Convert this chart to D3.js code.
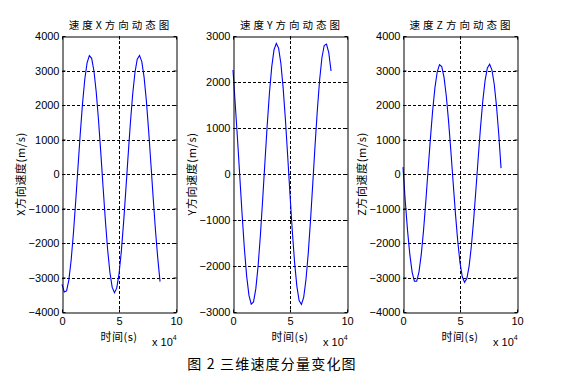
<!DOCTYPE html>
<html><head><meta charset="utf-8">
<script src="https://cdn.jsdelivr.net/npm/d3@7"></script>
<style>
html,body{margin:0;padding:0;background:#fff;}
svg{display:block;}
text{font-family:"Liberation Sans",Arial,sans-serif;fill:#000;}
.cjk{font-family:"Noto Sans CJK SC","Liberation Sans",sans-serif;}
</style></head>
<body>
<svg id="chart" width="565" height="387"></svg>
<script>
// time in units of 10^4 s
const time = [0,0.2,0.4,0.6,0.8,1.0,1.2,1.4,1.6,1.8,2.0,2.2,2.4,2.6,2.8,3.0,3.2,3.4,3.6,3.8,4.0,4.2,4.4,4.6,4.8,5.0,5.2,5.4,5.6,5.8,6.0,6.2,6.4,6.6,6.8,7.0,7.2,7.4,7.6,7.8,8.0,8.2,8.4,8.6];
const velX = [-3200,-3417,-3388,-3076,-2508,-1725,-803,186,1160,2041,2747,3224,3433,3353,2994,2385,1572,633,-360,-1327,-2179,-2849,-3281,-3440,-3310,-2904,-2257,-1416,-461,532,1486,2311,2943,3329,3438,3258,2807,2122,1255,288,-703,-1636,-2438,-3120];
const velY = [2260,1505,745,-74,-887,-1625,-2226,-2639,-2829,-2781,-2498,-2005,-1342,-566,257,1059,1772,2335,2701,2839,2737,2403,1867,1173,381,-444,-1232,-1915,-2437,-2753,-2837,-2682,-2300,-1725,-1004,-198,629,1398,2050,2528,2793,2823,2640,2240];
const velZ = [200,-798,-1641,-2339,-2844,-3107,-3107,-2844,-2339,-1641,-798,114,1012,1833,2499,2956,3168,3114,2802,2254,1518,661,-256,-1148,-1939,-2569,-2980,-3139,-3032,-2669,-2081,-1315,-436,476,1355,2121,2709,3072,3179,3020,2609,1979,1150,170];
const xTicks = [0,5,10];
const yTicksXZ = [-4000,-3000,-2000,-1000,0,1000,2000,3000,4000];
const yTicksY = [-3000,-2000,-1000,0,1000,2000,3000];
const titles = ["速度X方向动态图","速度Y方向动态图","速度Z方向动态图"];
const yLabels = ["X方向速度(m/s)","Y方向速度(m/s)","Z方向速度(m/s)"];
const xLabel = "时间(s)";
const caption = "图 2 三维速度分量变化图";

const svg = d3.select("#chart");
const panels = [
  {left:62, values:velX, ticks:yTicksXZ, dom:[-4000,4000], title:titles[0], ylab:yLabels[0], ylx:21},
  {left:233, values:velY, ticks:yTicksY, dom:[-3000,3000], title:titles[1], ylab:yLabels[1], ylx:192},
  {left:403, values:velZ, ticks:yTicksXZ, dom:[-4000,4000], title:titles[2], ylab:yLabels[2], ylx:362}
];
const plotTop = 36, plotBottom = 312, plotW = 114;
const fmt = d3.format("d");

panels.forEach(p => {
  const x = d3.scaleLinear().domain([0,10]).range([p.left, p.left + plotW]);
  const y = d3.scaleLinear().domain(p.dom).range([plotBottom, plotTop]);
  const g = svg.append("g");

  // grid
  g.selectAll(".hg").data(p.ticks.filter(t => t!==p.dom[0] && t!==p.dom[1])).enter()
    .append("line").attr("x1", p.left).attr("x2", p.left + plotW)
    .attr("y1", d => Math.round(y(d))+0.5).attr("y2", d => Math.round(y(d))+0.5)
    .attr("stroke","#000").attr("stroke-width",1).attr("stroke-dasharray","3,2");
  g.selectAll(".vg").data(xTicks.filter(t => t!==0 && t!==10)).enter()
    .append("line").attr("y1", plotTop).attr("y2", plotBottom)
    .attr("x1", d => Math.round(x(d))+0.5).attr("x2", d => Math.round(x(d))+0.5)
    .attr("stroke","#000").attr("stroke-width",1).attr("stroke-dasharray","3,2");

  // line
  const line = d3.line().x((d,i) => x(time[i])).y(d => y(d));
  g.append("path").datum(p.values).attr("d", line)
    .attr("fill","none").attr("stroke","#0000ff").attr("stroke-width",1.1);

  // axes (ticks inside)
  const ax = g.append("g").attr("transform",`translate(0,${plotBottom+0.5})`)
    .call(d3.axisBottom(x).tickValues(xTicks).tickFormat(fmt).tickSizeInner(-3).tickSizeOuter(0).tickPadding(5));
  const ay = g.append("g").attr("transform",`translate(${p.left+0.5},0)`)
    .call(d3.axisLeft(y).tickValues(p.ticks).tickFormat(fmt).tickSizeInner(-3).tickSizeOuter(0).tickPadding(3));
  const axT = g.append("g").attr("transform",`translate(0,${plotTop+0.5})`)
    .call(d3.axisTop(x).tickValues(xTicks).tickSizeInner(-3).tickSizeOuter(0).tickFormat(""));
  const ayR = g.append("g").attr("transform",`translate(${p.left+plotW+0.5},0)`)
    .call(d3.axisRight(y).tickValues(p.ticks).tickSizeInner(-3).tickSizeOuter(0).tickFormat(""));
  [ax,ay,axT,ayR].forEach(a => {
    a.selectAll("path").attr("stroke","#000").attr("stroke-width",1);
    a.selectAll("line").attr("stroke","#000");
    a.selectAll("text").attr("font-size","11px").attr("font-family","Liberation Sans, Arial, sans-serif").attr("fill","#000");
  });

  // title
  g.append("text").attr("class","cjk").attr("x", p.left + plotW/2 + 1.5).attr("y", 29)
    .attr("text-anchor","middle").attr("font-size","10.5px").attr("letter-spacing","3px").text(p.title);
  // x label
  g.append("text").attr("class","cjk").attr("x", p.left + plotW/2).attr("y", 341)
    .attr("text-anchor","middle").attr("font-size","11px").attr("letter-spacing","0.5px").text(xLabel);
  // x 10^4
  const e = g.append("text").attr("x", p.left + plotW - 24).attr("y", 346).attr("font-size","11px");
  e.append("tspan").text("x 10");
  e.append("tspan").attr("dy",-6).attr("font-size","7px").text("4");
  // y label
  g.append("text").attr("class","cjk").attr("transform",`translate(${p.ylx+4},${174}) rotate(-90)`)
    .attr("text-anchor","middle").attr("font-size","11px").attr("letter-spacing","0.6px").text(p.ylab);
});

svg.append("text").attr("class","cjk").attr("x", 272).attr("y", 369)
  .attr("text-anchor","middle").attr("font-size","14px").attr("letter-spacing","1.2px").text(caption);
</script>
</body></html>
